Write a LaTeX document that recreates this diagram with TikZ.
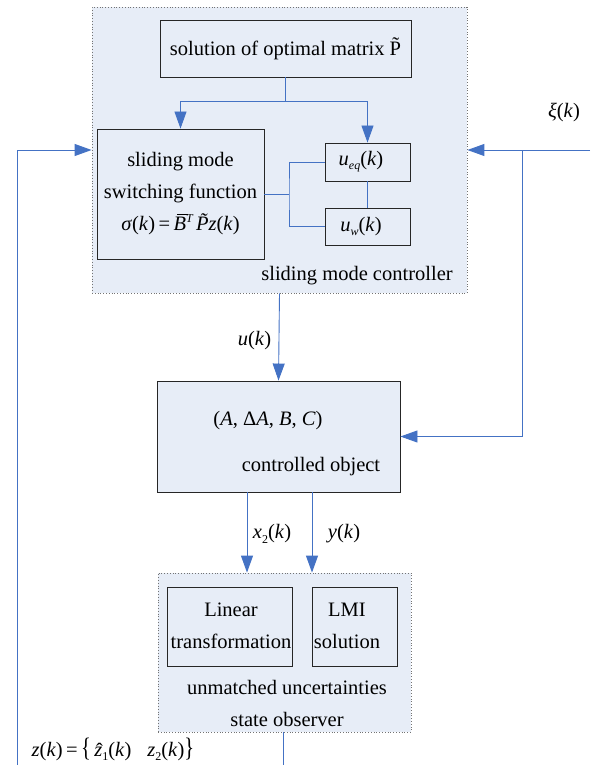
\documentclass[tikz,border=0pt]{standalone}
\usepackage{fontspec}
\usepackage{graphicx}
\setmainfont{Liberation Serif}
\usetikzlibrary{arrows.meta}
\definecolor{lnblue}{RGB}{68,114,196}
\definecolor{boxfill}{RGB}{231,237,247}
\newcommand\iv[1]{\textit{#1}}
\newcommand\sbs[1]{\raisebox{-0.45ex}{\fontsize{12}{12}\selectfont\itshape #1}}
\newcommand\sbn[1]{\raisebox{-0.45ex}{\fontsize{12}{12}\selectfont #1}}
\newcommand\sps[1]{\raisebox{0.9ex}{\fontsize{12}{12}\selectfont\itshape #1}}
\newcommand\barB{\rlap{\hspace{3.5pt}\raisebox{15.8pt}{\rule{10.5pt}{0.8pt}}}\iv{B}}
\newcommand\hatz{\rlap{\hspace{1.8pt}\raisebox{-1pt}{ˆ}}\iv{z}}
\begin{document}
\begin{tikzpicture}[x=1pt,y=-1pt,
  every node/.style={font=\fontsize{20.5}{32}\selectfont, inner sep=0pt},
  blk/.style={draw=black!85, line width=0.9pt, fill=boxfill, align=center},
  grp/.style={draw=black!55, dotted, line width=0.8pt, fill=boxfill},
  wire/.style={draw=lnblue, line width=0.9pt},
  arr/.style={wire, -{Triangle[length=17pt,width=12pt]}},
  txt/.style={align=center}]
\useasboundingbox (0,0) rectangle (590,765);
% groups
\node[grp, minimum width=375pt, minimum height=286pt] (ctrl) at (279.5,150) {};
\node[grp, minimum width=253pt, minimum height=159pt] (obs) at (284.5,652.5) {};
% controller blocks
\node[blk, minimum width=251pt, minimum height=57pt] (sol) at (285.5,48.5) {solution of optimal matrix \~{P}};
\node[blk, minimum width=167pt, minimum height=130pt] (sl) at (180.5,194) {sliding mode\\switching function\\\iv{σ}(\iv{k})\,=\,\barB\sps{T}\,\iv{\~{P}z}(\iv{k})};
\node[blk, minimum width=85pt, minimum height=38pt] (ueq) at (367.5,162) {};
\node[blk, minimum width=85pt, minimum height=37pt] (uw) at (367.5,226.5) {};
\node[txt] (ueqt) at (361,162) {\iv{u}\sbs{eq}(\iv{k})};
\node[txt] (uwt) at (361,226.5) {\iv{u}\sbs{w}(\iv{k})};
\node[txt] (ctrlt) at (357,276) {sliding mode controller};
% controlled object
\node[blk, minimum width=243pt, minimum height=111pt] (obj) at (278.5,436.5) {};
\node[txt] (objm) at (268,421) {(\iv{A}, Δ\iv{A}, \iv{B}, \iv{C})};
\node[txt] (objt) at (311,467) {controlled object};
% observer blocks
\node[blk, minimum width=125pt, minimum height=79pt] (lin) at (229.5,626.5) {};
\node[blk, minimum width=85pt, minimum height=79pt] (lmi) at (354.5,626.5) {};
\node[txt] (lint) at (231,625.5) {Linear\\transformation};
\node[txt] (lmit) at (347,625.5) {LMI\\solution};
\node[txt] (obst) at (287,703) {unmatched uncertainties\\state observer};
% connectors in controller
\coordinate (j1) at (285.5,101);
\draw[wire] (sol.south) -- (j1);
\draw[arr] (j1) -| (sl.north);
\draw[arr] (j1) -| (ueq.north);
\coordinate (j2) at (289,194);
\draw[wire] (sl.east) -- (j2);
\draw[wire] (ueq.west) -| (j2) |- (uw.west);
\draw[wire] (ueq.south) -- (uw.north);
% u(k)
\draw[arr] (ctrl.south) -- (obj.north);
\node[txt] (ul) at (254.5,341) {\iv{u}(\iv{k})};
% xi
\coordinate (xin) at (590,150);
\coordinate (xbr) at (522,150);
\draw[arr] (xin) -- (ctrl.east);
\draw[arr] (xbr) |- (obj.east);
\node[txt] (xil) at (564,113) {\iv{ξ}(\iv{k})};
% outputs to observer
\coordinate (cx2) at (247,500);
\coordinate (cy) at (312,500);
\draw[arr] (obj.south -| cx2) -- (obs.north -| cx2);
\draw[arr] (obj.south -| cy) -- (obs.north -| cy);
\node[txt] (x2l) at (272,534) {\iv{x}\sbn{2}(\iv{k})};
\node[txt] (yl) at (344,534) {\iv{y}(\iv{k})};
% observer output and feedback
\coordinate (obo) at (283,765);
\draw[wire] (obs.south -| obo) -- (obo);
\coordinate (fbl) at (17,765);
\draw[arr] (fbl) |- (ctrl.west);
\node[txt] (zl) at (113,749) {\iv{z}(\iv{k})\,=\,\scalebox{1}[1.3]{\{}\,\hatz\sbn{1}(\iv{k})\hspace{16pt}\iv{z}\sbn{2}(\iv{k})\scalebox{1}[1.3]{\}}};
\end{tikzpicture}
\end{document}
